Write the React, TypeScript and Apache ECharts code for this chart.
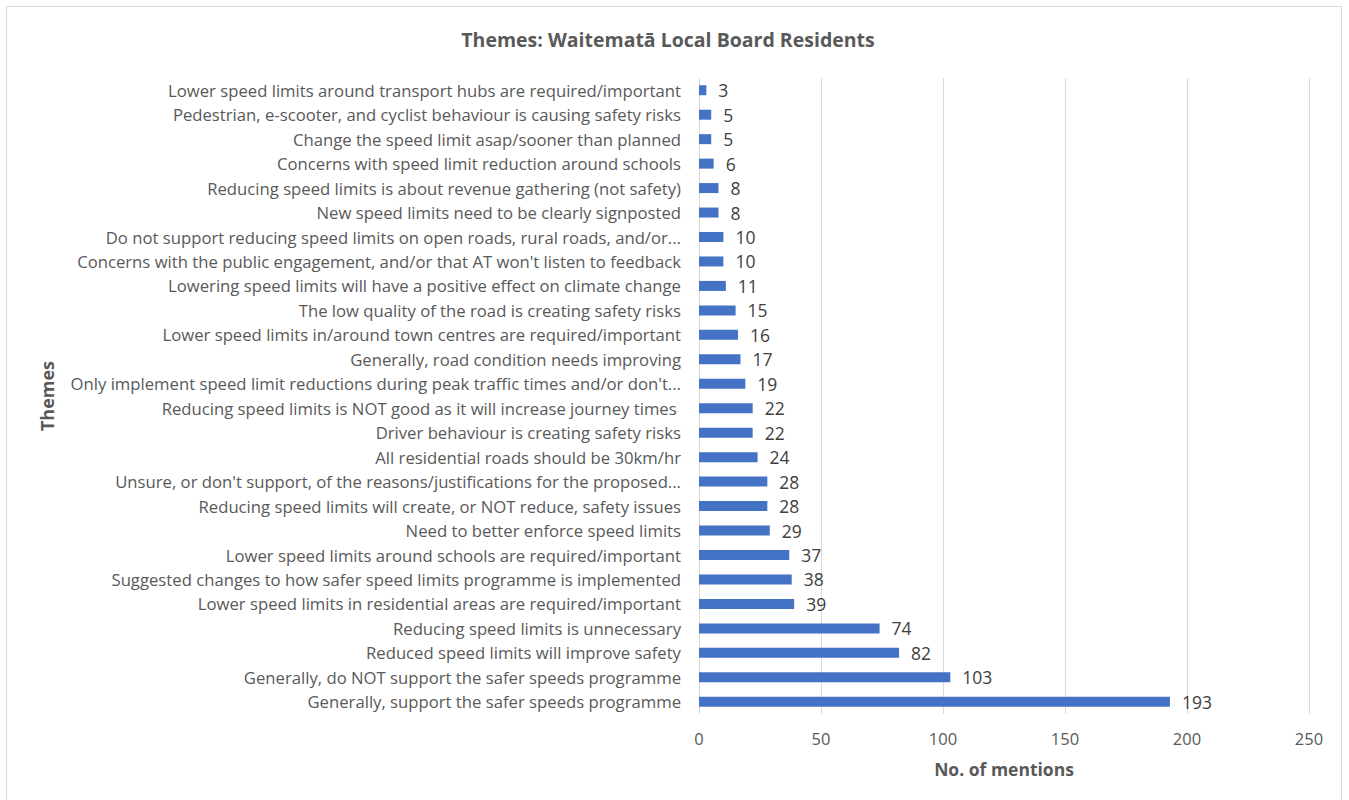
import React, { useEffect, useRef } from "react";
import * as echarts from "echarts";

const categories = [
  "Lower speed limits around transport hubs are required/important",
  "Pedestrian, e-scooter, and cyclist behaviour is causing safety risks",
  "Change the speed limit asap/sooner than planned",
  "Concerns with speed limit reduction around schools",
  "Reducing speed limits is about revenue gathering (not safety)",
  "New speed limits need to be clearly signposted",
  "Do not support reducing speed limits on open roads, rural roads, and/or...",
  "Concerns with the public engagement, and/or that AT won't listen to feedback",
  "Lowering speed limits will have a positive effect on climate change",
  "The low quality of the road is creating safety risks",
  "Lower speed limits in/around town centres are required/important",
  "Generally, road condition needs improving",
  "Only implement speed limit reductions during peak traffic times and/or don't...",
  "Reducing speed limits is NOT good as it will increase journey times ",
  "Driver behaviour is creating safety risks",
  "All residential roads should be 30km/hr",
  "Unsure, or don't support, of the reasons/justifications for the proposed...",
  "Reducing speed limits will create, or NOT reduce, safety issues",
  "Need to better enforce speed limits",
  "Lower speed limits around schools are required/important",
  "Suggested changes to how safer speed limits programme is implemented",
  "Lower speed limits in residential areas are required/important",
  "Reducing speed limits is unnecessary",
  "Reduced speed limits will improve safety",
  "Generally, do NOT support the safer speeds programme",
  "Generally, support the safer speeds programme",
];

const mentions = [3, 5, 5, 6, 8, 8, 10, 10, 11, 15, 16, 17, 19, 22, 22, 24, 28, 28, 29, 37, 38, 39, 74, 82, 103, 193];

const xTicks = [0, 50, 100, 150, 200, 250];

const FONT = "'Open Sans', 'Noto Sans', sans-serif";

export default function App() {
  const ref = useRef<HTMLDivElement>(null);
  useEffect(() => {
    if (!ref.current) return;
    const chart = echarts.init(ref.current, null, { renderer: "svg" });
    chart.setOption({
      animation: false,
      textStyle: { fontFamily: FONT },
      title: {
        text: "Themes: Waitematā Local Board Residents",
        left: "center",
        top: 24,
        textStyle: { fontSize: 19.5, fontWeight: "bold", color: "#595959", fontFamily: FONT },
      },
      grid: { left: 699, right: 27, top: 78, bottom: 86, containLabel: false },
      xAxis: {
        type: "value",
        min: xTicks[0],
        max: xTicks[xTicks.length - 1],
        interval: 50,
        name: "No. of mentions",
        nameLocation: "middle",
        nameGap: 46,
        nameTextStyle: { fontSize: 17.5, fontWeight: "bold", color: "#595959", fontFamily: FONT },
        axisLine: { show: false },
        axisTick: { show: false },
        axisLabel: { fontSize: 16.5, color: "#595959", margin: 16, fontFamily: FONT },
        splitLine: { show: true, lineStyle: { color: "#d9d9d9", width: 1 } },
      },
      yAxis: {
        type: "category",
        data: categories,
        inverse: true,
        name: "Themes",
        nameLocation: "middle",
        nameGap: 643,
        nameRotate: 90,
        nameTextStyle: { fontSize: 18, fontWeight: "bold", color: "#595959", fontFamily: FONT },
        axisLine: { show: true, lineStyle: { color: "#d9d9d9" } },
        axisTick: { show: false },
        axisLabel: { fontSize: 16.7, color: "#595959", margin: 18, fontFamily: FONT },
      },
      series: [
        {
          type: "bar",
          data: mentions,
          barWidth: 10,
          itemStyle: { color: "#4472C4" },
          label: {
            show: true,
            position: "right",
            distance: 12,
            fontSize: 17.5,
            color: "#404040",
            fontFamily: FONT,
          },
        },
      ],
    });
    return () => chart.dispose();
  }, []);
  return (
    <div
      style={{
        position: "absolute",
        left: 6,
        top: 6,
        width: 1336,
        height: 800,
        border: "1px solid #d9d9d9",
        boxSizing: "border-box",
        background: "#fff",
      }}
    >
      <div ref={ref} style={{ width: 1336, height: 800, position: "absolute", left: -7, top: -7 }} />
    </div>
  );
}
